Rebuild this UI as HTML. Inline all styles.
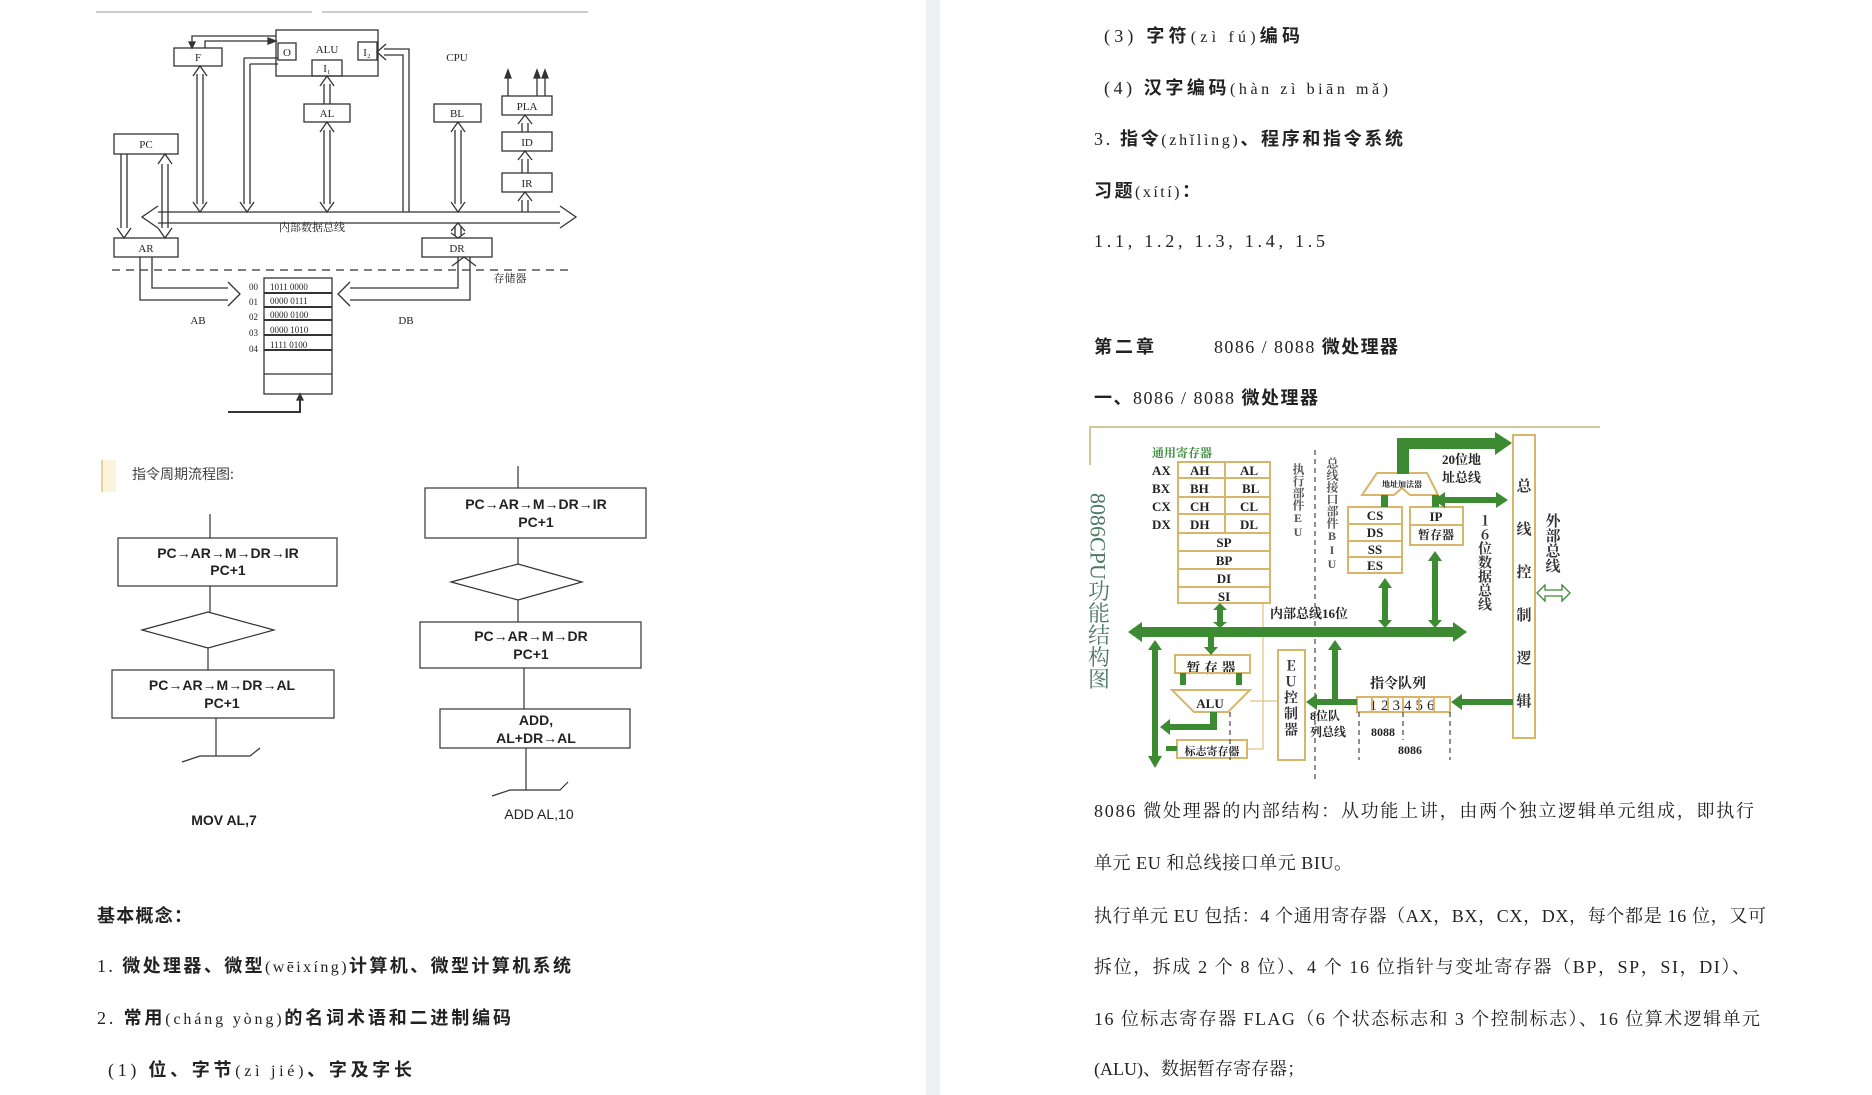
<!DOCTYPE html>
<html><head><meta charset="utf-8"><style>
html,body{margin:0;padding:0;background:#fff;}
svg{display:block;}
.s{font-family:"Liberation Serif","Noto Serif CJK SC",serif;}
.h{font-family:"Liberation Sans","Noto Sans CJK SC",sans-serif;font-weight:bold;}
.up{writing-mode:tb;text-orientation:upright;}
</style></head><body>
<svg width="1872" height="1095" viewBox="0 0 1872 1095" xmlns="http://www.w3.org/2000/svg">
<rect width="1872" height="1095" fill="#fff"/>
<rect x="926" y="0" width="14" height="1095" fill="#eef0f3"/>
<line x1="96" y1="12" x2="312" y2="12" stroke="#ccc" stroke-width="2"/>
<line x1="322" y1="12" x2="588" y2="12" stroke="#ccc" stroke-width="2"/>

<!-- Diagram 1 -->
<g stroke="#333" stroke-width="1.3" fill="none" font-family="Liberation Serif,serif" font-size="11">
<rect x="174" y="48" width="48" height="18" fill="#fff"/>
<rect x="276" y="30" width="102" height="46"/>
<rect x="278" y="43" width="18" height="17"/>
<rect x="358" y="42" width="19" height="18"/>
<rect x="312" y="60" width="30" height="16"/>
<rect x="304" y="104" width="46" height="18"/>
<rect x="434" y="104" width="47" height="18"/>
<rect x="502" y="96" width="50" height="19"/>
<rect x="502" y="132" width="50" height="19"/>
<rect x="502" y="173" width="50" height="19"/>
<rect x="114" y="134" width="64" height="20"/>
<rect x="114" y="238" width="64" height="19"/>
<rect x="422" y="238" width="70" height="19"/>
<polyline points="158,212 560,212"/><polyline points="158,223 560,223"/>
<polyline points="158,206 142,217 158,228"/><polyline points="560,206 576,217 560,228"/>
<g>
<line x1="197" y1="74" x2="197" y2="204"/><line x1="203" y1="74" x2="203" y2="204"/>
<polyline points="193,76 200,66 207,76"/><polyline points="193,202 200,212 207,202"/>
<line x1="324" y1="130" x2="324" y2="204"/><line x1="330" y1="130" x2="330" y2="204"/>
<polyline points="320,132 327,122 334,132"/><polyline points="320,202 327,212 334,202"/>
<line x1="324" y1="84" x2="324" y2="104"/><line x1="330" y1="84" x2="330" y2="104"/>
<polyline points="320,86 327,76 334,86"/>
<line x1="455" y1="130" x2="455" y2="204"/><line x1="461" y1="130" x2="461" y2="204"/>
<polyline points="451,132 458,122 465,132"/><polyline points="451,202 458,212 465,202"/>
<line x1="455" y1="226" x2="455" y2="236"/><line x1="461" y1="226" x2="461" y2="236"/>
<polyline points="451,231 458,223 465,231"/><polyline points="451,233 458,238 465,233"/>
<line x1="522" y1="200" x2="522" y2="212"/><line x1="528" y1="200" x2="528" y2="212"/><polyline points="518,201 525,192 532,201"/>
<line x1="522" y1="159" x2="522" y2="173"/><line x1="528" y1="159" x2="528" y2="173"/><polyline points="518,160 525,151 532,160"/>
<line x1="522" y1="123" x2="522" y2="132"/><line x1="528" y1="123" x2="528" y2="132"/><polyline points="518,124 525,115 532,124"/>
<line x1="121" y1="154" x2="121" y2="228"/><line x1="127" y1="154" x2="127" y2="228"/><polyline points="117,228 124,238 131,228"/>
<line x1="162" y1="164" x2="162" y2="228"/><line x1="168" y1="164" x2="168" y2="228"/>
<polyline points="158,164 165,154 172,164"/><polyline points="158,228 165,238 172,228"/>
<line x1="244" y1="58" x2="244" y2="204"/><line x1="250" y1="64" x2="250" y2="204"/>
<polyline points="244,58 278,58"/><polyline points="250,64 278,64"/>
<polyline points="240,202 247,212 254,202"/>
<polyline points="403,212 403,55 384,55"/><polyline points="409,212 409,49 384,49"/>
<polyline points="386,44 377,52 386,60"/>
</g>
<polyline points="276,36 192,36 192,44"/><polygon points="189,42 195,42 192,48" fill="#333"/>
<polyline points="205,48 205,41 270,41"/><polygon points="268,38 276,41 268,44" fill="#333"/>
<line x1="508" y1="96" x2="508" y2="76"/><polygon points="505,78 511,78 508,70" fill="#333"/>
<line x1="537" y1="96" x2="537" y2="76"/><polygon points="534,78 540,78 537,70" fill="#333"/>
<line x1="545" y1="96" x2="545" y2="76"/><polygon points="542,78 548,78 545,70" fill="#333"/>
<line x1="112" y1="270" x2="570" y2="270" stroke-dasharray="8,6"/>
<polyline points="140,257 140,300 228,300"/><polyline points="152,257 152,288 228,288"/>
<polyline points="228,282 240,294 228,306"/>
<polyline points="458,257 458,288 350,288"/><polyline points="470,257 470,300 350,300"/>
<polyline points="350,282 338,294 350,306"/>
<polyline points="452,266 464,257 476,266"/>
<rect x="264" y="278" width="68" height="116"/>
<g stroke-width="2"><line x1="264" y1="293" x2="332" y2="293"/><line x1="264" y1="307" x2="332" y2="307"/><line x1="264" y1="320" x2="332" y2="320"/><line x1="264" y1="335" x2="332" y2="335"/><line x1="264" y1="350" x2="332" y2="350"/></g>
<line x1="264" y1="374" x2="332" y2="374"/>
<polyline points="228,412 300,412 300,398" stroke-width="2"/><polygon points="297,400 303,400 300,394" fill="#333"/>
</g>
<g font-family="Liberation Serif,'Noto Serif CJK SC',serif" font-size="11" fill="#222" text-anchor="middle">
<text x="198" y="61">F</text><text x="327" y="53">ALU</text><text x="287" y="56">O</text><text x="367" y="56">I₂</text><text x="327" y="72">I₁</text>
<text x="457" y="61">CPU</text><text x="327" y="117">AL</text><text x="457" y="117">BL</text><text x="527" y="110">PLA</text><text x="527" y="146">ID</text><text x="527" y="187">IR</text>
<text x="146" y="148">PC</text><text x="146" y="252">AR</text><text x="457" y="252">DR</text>
<text x="312" y="231">内部数据总线</text><text x="510" y="282">存储器</text>
<text x="198" y="324">AB</text><text x="406" y="324">DB</text>
</g>
<g font-family="Liberation Serif,serif" font-size="9" fill="#222">
<text x="249" y="290">00</text><text x="270" y="290">1011 0000</text>
<text x="249" y="305">01</text><text x="270" y="304">0000 0111</text>
<text x="249" y="320">02</text><text x="270" y="318">0000 0100</text>
<text x="249" y="336">03</text><text x="270" y="333">0000 1010</text>
<text x="249" y="352">04</text><text x="270" y="348">1111 0100</text>
</g>

<rect x="102" y="460" width="14" height="32" fill="#fbf3dc"/>
<line x1="102" y1="460" x2="102" y2="492" stroke="#e8d39a" stroke-width="2"/>
<text x="132" y="479" font-family="'Noto Sans CJK SC',sans-serif" font-size="14" fill="#444">指令周期流程图:</text>
<g stroke="#333" stroke-width="1.2" fill="none">
<line x1="210" y1="514" x2="210" y2="538"/>
<rect x="118" y="538" width="219" height="48"/>
<line x1="210" y1="586" x2="210" y2="612"/>
<polygon points="142,630 208,612 274,630 208,648"/>
<line x1="208" y1="648" x2="208" y2="670"/>
<rect x="112" y="670" width="222" height="48"/>
<line x1="216" y1="718" x2="216" y2="756"/>
<polyline points="182,762 200,756 250,756 260,748"/>
<line x1="518" y1="466" x2="518" y2="488"/>
<rect x="425" y="488" width="221" height="50"/>
<line x1="518" y1="538" x2="518" y2="564"/>
<polygon points="451,582 518,564 582,582 518,600"/>
<line x1="518" y1="600" x2="518" y2="622"/>
<rect x="420" y="622" width="221" height="46"/>
<line x1="524" y1="668" x2="524" y2="709"/>
<rect x="440" y="709" width="190" height="39"/>
<line x1="526" y1="748" x2="526" y2="790"/>
<polyline points="492,796 510,790 560,790 568,782"/>
</g>
<g font-family="Liberation Sans,sans-serif" font-weight="bold" font-size="14" fill="#222" text-anchor="middle">
<text x="228" y="558">PC→AR→M→DR→IR</text><text x="228" y="575">PC+1</text>
<text x="222" y="690">PC→AR→M→DR→AL</text><text x="222" y="708">PC+1</text>
<text x="536" y="509">PC→AR→M→DR→IR</text><text x="536" y="527">PC+1</text>
<text x="531" y="641">PC→AR→M→DR</text><text x="531" y="659">PC+1</text>
<text x="536" y="725">ADD,</text><text x="536" y="743">AL+DR→AL</text>
<text x="224" y="825">MOV AL,7</text>
<text x="539" y="819" font-weight="normal">ADD AL,10</text>
</g>

<g font-size="18" fill="#222">
<text x="97" y="922" class="h" textLength="95" lengthAdjust="spacing">基本概念：</text>
<text x="97" y="972" textLength="474" lengthAdjust="spacing"><tspan class="s">1. </tspan><tspan class="h">微处理器、微型</tspan><tspan class="s" font-size="16">(wēixíng)</tspan><tspan class="h">计算机、微型计算机系统</tspan></text>
<text x="97" y="1024" textLength="414" lengthAdjust="spacing"><tspan class="s">2. </tspan><tspan class="h">常用</tspan><tspan class="s" font-size="16">(cháng yòng)</tspan><tspan class="h">的名词术语和二进制编码</tspan></text>
<text x="108" y="1076" textLength="304" lengthAdjust="spacing"><tspan class="s">(1)   </tspan><tspan class="h">位、字节</tspan><tspan class="s" font-size="16">(zì jié)</tspan><tspan class="h">、字及字长</tspan></text>
</g>

<g font-size="18" fill="#222">
<text x="1104" y="42" textLength="196" lengthAdjust="spacing"><tspan class="s">(3)   </tspan><tspan class="h">字符</tspan><tspan class="s" font-size="16">(zì fú)</tspan><tspan class="h">编码</tspan></text>
<text x="1104" y="94" textLength="284" lengthAdjust="spacing"><tspan class="s">(4)   </tspan><tspan class="h">汉字编码</tspan><tspan class="s" font-size="16">(hàn zì biān mǎ)</tspan></text>
<text x="1094" y="145" textLength="309" lengthAdjust="spacing"><tspan class="s">3. </tspan><tspan class="h">指令</tspan><tspan class="s" font-size="16">(zhǐlìng)</tspan><tspan class="h">、程序和指令系统</tspan></text>
<text x="1094" y="197" textLength="106" lengthAdjust="spacing"><tspan class="h">习题</tspan><tspan class="s" font-size="16">(xítí)</tspan><tspan class="h">：</tspan></text>
<text x="1094" y="247" class="s" textLength="231" lengthAdjust="spacing">1.1, 1.2, 1.3, 1.4, 1.5</text>
<text x="1094" y="353" class="h" textLength="60" lengthAdjust="spacing">第二章</text>
<text x="1214" y="353" textLength="184" lengthAdjust="spacing"><tspan class="s">8086 / 8088 </tspan><tspan class="h">微处理器</tspan></text>
<text x="1094" y="404" textLength="224" lengthAdjust="spacing"><tspan class="h">一、</tspan><tspan class="s">8086 / 8088 </tspan><tspan class="h">微处理器</tspan></text>
</g>
<g font-size="18" fill="#222" class="s">
<text x="1094" y="817" textLength="660" lengthAdjust="spacing">8086 微处理器的内部结构：从功能上讲，由两个独立逻辑单元组成，即执行</text>
<text x="1094" y="869" textLength="258" lengthAdjust="spacing">单元 EU 和总线接口单元 BIU。</text>
<text x="1094" y="922" textLength="672" lengthAdjust="spacing">执行单元 EU 包括：4 个通用寄存器（AX，BX，CX，DX，每个都是 16 位，又可</text>
<text x="1094" y="973" textLength="656" lengthAdjust="spacing">拆位，拆成 2 个 8 位）、4 个 16 位指针与变址寄存器（BP，SP，SI，DI）、</text>
<text x="1094" y="1025" textLength="666" lengthAdjust="spacing">16 位标志寄存器 FLAG（6 个状态标志和 3 个控制标志）、16 位算术逻辑单元</text>
<text x="1094" y="1075">(ALU)、数据暂存寄存器；</text>
</g>

<g>
<polyline points="1090,465 1090,427 1600,427" stroke="#c9b27a" stroke-width="1.5" fill="none"/>
<text x="1098" y="493" font-family="Liberation Serif,'Noto Serif CJK SC',serif" font-size="22" fill="#4d7a62" style="writing-mode:tb">8086CPU功能结构图</text>
<g font-family="Liberation Serif,'Noto Serif CJK SC',serif" font-weight="bold" fill="#222">
<text x="1152" y="457" font-size="12" fill="#3a8a3a">通用寄存器</text>
<g font-size="13"><text x="1152" y="475">AX</text><text x="1152" y="493">BX</text><text x="1152" y="511">CX</text><text x="1152" y="529">DX</text>
<text x="1190" y="475">AH</text><text x="1240" y="475">AL</text><text x="1190" y="493">BH</text><text x="1242" y="493">BL</text>
<text x="1190" y="511">CH</text><text x="1240" y="511">CL</text><text x="1190" y="529">DH</text><text x="1240" y="529">DL</text>
<text x="1224" y="547" text-anchor="middle">SP</text><text x="1224" y="565" text-anchor="middle">BP</text><text x="1224" y="583" text-anchor="middle">DI</text><text x="1224" y="601" text-anchor="middle">SI</text>
<text x="1375" y="520" text-anchor="middle">CS</text><text x="1375" y="537" text-anchor="middle">DS</text><text x="1375" y="554" text-anchor="middle">SS</text><text x="1375" y="570" text-anchor="middle">ES</text>
<text x="1436" y="521" text-anchor="middle">IP</text><text x="1436" y="539" text-anchor="middle" font-size="12">暂存器</text>
<text x="1442" y="464">20位地</text><text x="1442" y="482">址总线</text>
<text x="1270" y="618">内部总线16位</text>
<text x="1211" y="673" text-anchor="middle" font-size="14">暂 存 器</text>
<text x="1210" y="708" text-anchor="middle">ALU</text>
<text x="1212" y="755" text-anchor="middle" font-size="11">标志寄存器</text>
<text x="1398" y="688" text-anchor="middle" font-size="14">指令队列</text>
<text x="1404" y="710" text-anchor="middle" font-size="15" font-weight="normal" letter-spacing="4">123456</text>
<text x="1310" y="720" font-size="12">8位队</text><text x="1310" y="736" font-size="12">列总线</text>
<text x="1371" y="736" font-size="12">8088</text><text x="1398" y="754" font-size="12">8086</text>
<text x="1402" y="487" text-anchor="middle" font-size="8">地址加法器</text>
</g>
<g font-family="Liberation Serif,'Noto Serif CJK SC',serif" font-size="13" fill="#555" class="up">
<text x="1298" y="463" class="up" font-size="12">执行部件EU</text>
<text x="1332" y="457" class="up" font-size="12">总线接口部件BIU</text>
</g>
<g font-family="'Noto Serif CJK SC',serif" font-weight="bold" font-size="15" fill="#333">
<text x="1485" y="513" class="up" font-size="14">16位数据总线</text>
<text x="1553" y="513" class="up">外部总线</text>
<text x="1524" y="478" class="up" letter-spacing="28">总线控制逻辑</text>
<text x="1291" y="658" class="up" font-size="14" letter-spacing="2">EU控制器</text>
</g>
<g fill="none" stroke="#d7b56a" stroke-width="2">
<rect x="1178" y="462" width="92" height="141"/>
<line x1="1225" y1="462" x2="1225" y2="533"/>
<line x1="1178" y1="478" x2="1270" y2="478"/><line x1="1178" y1="497" x2="1270" y2="497"/><line x1="1178" y1="514" x2="1270" y2="514"/><line x1="1178" y1="533" x2="1270" y2="533"/><line x1="1178" y1="551" x2="1270" y2="551"/><line x1="1178" y1="569" x2="1270" y2="569"/><line x1="1178" y1="587" x2="1270" y2="587"/>
<rect x="1348" y="507" width="54" height="66"/><line x1="1348" y1="524" x2="1402" y2="524"/><line x1="1348" y1="541" x2="1402" y2="541"/><line x1="1348" y1="557" x2="1402" y2="557"/>
<rect x="1410" y="507" width="53" height="38"/><line x1="1410" y1="525" x2="1463" y2="525"/>
<polygon points="1377,473 1427,473 1438,495 1410,495 1402,488 1394,495 1362,495"/>
<rect x="1513" y="435" width="22" height="303"/>
<rect x="1175" y="655" width="75" height="18"/>
<polygon points="1172,690 1250,690 1228,712 1194,712"/>
<rect x="1177" y="740" width="70" height="18"/>
<rect x="1278" y="650" width="27" height="110"/>
<rect x="1357" y="697" width="93" height="15"/>
<line x1="1372" y1="697" x2="1372" y2="712"/><line x1="1388" y1="697" x2="1388" y2="712"/><line x1="1403" y1="697" x2="1403" y2="712"/><line x1="1419" y1="697" x2="1419" y2="712"/><line x1="1434" y1="697" x2="1434" y2="712"/>
</g>
<g fill="none" stroke="#d7b56a" stroke-width="1">
<polyline points="1278,701 1250,701"/><polyline points="1263,603 1263,749 1247,749"/>
</g>
<g stroke="#555" stroke-width="1.3" stroke-dasharray="5,4" fill="none">
<line x1="1315" y1="450" x2="1315" y2="780"/><line x1="1359" y1="712" x2="1359" y2="760"/><line x1="1403" y1="712" x2="1403" y2="740"/><line x1="1450" y1="712" x2="1450" y2="760"/><line x1="1230" y1="712" x2="1230" y2="760"/>
</g>
<g fill="#3c8a32" stroke="none">
<rect x="1140" y="627" width="315" height="10"/>
<polygon points="1142,622 1128,632 1142,642"/><polygon points="1453,622 1467,632 1453,642"/>
<rect x="1397" y="438" width="12" height="36"/><rect x="1397" y="438" width="100" height="11"/><polygon points="1495,432 1512,443 1495,455"/>
<rect x="1440" y="497" width="58" height="6"/><polygon points="1445,492 1434,500 1445,508"/><polygon points="1496,492 1508,500 1496,508"/>
<rect x="1381" y="495" width="7" height="12"/><rect x="1432" y="495" width="7" height="12"/>
<rect x="1217" y="606" width="6" height="20"/><polygon points="1213,610 1220,603 1227,610"/><polygon points="1213,622 1220,628 1227,622"/>
<rect x="1382" y="584" width="6" height="40"/><polygon points="1378,588 1385,578 1392,588"/><polygon points="1378,620 1385,628 1392,620"/>
<rect x="1432" y="557" width="6" height="67"/><polygon points="1428,561 1435,551 1442,561"/><polygon points="1428,620 1435,628 1442,620"/>
<rect x="1152" y="648" width="6" height="110"/><polygon points="1148,650 1155,640 1162,650"/><polygon points="1148,756 1155,768 1162,756"/>
<rect x="1208" y="637" width="6" height="12"/><polygon points="1204,647 1211,655 1218,647"/>
<rect x="1180" y="673" width="6" height="12"/><rect x="1236" y="673" width="6" height="12"/>
<rect x="1210" y="712" width="7" height="18"/><rect x="1168" y="724" width="49" height="6"/><polygon points="1170,719 1160,727 1170,735"/>
<rect x="1166" y="746" width="11" height="5"/>
<rect x="1460" y="699" width="53" height="6"/><polygon points="1462,694 1451,702 1462,710"/>
<rect x="1315" y="699" width="42" height="6"/><polygon points="1317,694 1306,702 1317,710"/>
<rect x="1332" y="648" width="6" height="52"/><polygon points="1328,650 1335,640 1342,650"/>
</g>
<g fill="none" stroke="#3c8a32" stroke-width="1.3">
<polygon points="1545,590 1562,590 1562,585 1570,593 1562,601 1562,596 1545,596 1545,601 1537,593 1545,585"/>
</g>
</g>
</svg>
</body></html>
